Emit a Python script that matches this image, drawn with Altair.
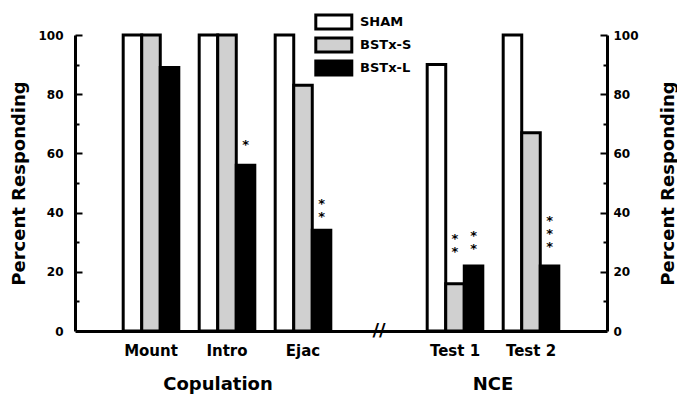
import altair as alt
import pandas as pd

# ---- data ----
categories = ["Mount", "Intro", "Ejac", "Test 1", "Test 2"]
groups = ["SHAM", "BSTx-S", "BSTx-L"]
sham = [100, 100, 100, 90, 100]
bstx_s = [100, 100, 83, 16, 67]
bstx_l = [89, 56, 34, 22, 22]

axis_domain = ["Mount", "Intro", "Ejac", "gap", "Test 1", "Test 2"]

star_cats = ["Intro", "Ejac", "Test 1", "Test 1", "Test 2"]
star_groups = ["BSTx-L", "BSTx-L", "BSTx-S", "BSTx-L", "BSTx-L"]
star_text = ["*", "*\n*", "*\n*", "*\n*", "*\n*\n*"]
star_level = [63, 43, 31, 32, 37]

major_ticks = [20, 40, 60, 80, 100]
minor_ticks = [10, 30, 50, 70, 90]
tick_labels = [0, 20, 40, 60, 80, 100]

FONT = "DejaVu Sans"
W, H = 532, 296

rows = []
for g, vals in zip(groups, [sham, bstx_s, bstx_l]):
    for c, v in zip(categories, vals):
        rows.append({"cat": c, "group": g, "value": v})
df = pd.DataFrame(rows)

stars = pd.DataFrame({"cat": star_cats, "group": star_groups,
                      "txt": star_text, "level": star_level})
brk = pd.DataFrame({"cat": ["gap"], "level": [0], "txt": ["//"]})
cop = pd.DataFrame({"cat": ["Intro"], "level": [0], "txt": ["Copulation"]})
nce = pd.DataFrame({"cat": ["Test 1"], "level": [0], "txt": ["NCE"]})

x_axis = alt.Axis(title=None, labelExpr="datum.value == 'gap' ? '' : datum.value",
                  ticks=False, tickSize=0, domainWidth=3, domainColor="black",
                  labelFont=FONT, labelFontSize=15, labelFontWeight="bold",
                  labelColor="black", labelPadding=12, labelAngle=0, grid=False)
x_scale = alt.Scale(domain=axis_domain, paddingInner=0, paddingOuter=0.5)
x_enc = alt.X("cat:N", scale=x_scale, axis=x_axis)
xo_enc = alt.XOffset("group:N", sort=groups,
                     scale=alt.Scale(domain=groups, paddingOuter=0.55, paddingInner=0))

def ys():
    return alt.Scale(domain=[0, 100], nice=False, zero=True)

left_axis = alt.Axis(orient="left", values=tick_labels, ticks=False, tickSize=0,
                     domainWidth=3, domainColor="black", labelFont=FONT,
                     labelFontSize=12, labelFontWeight="bold", labelColor="black",
                     labelPadding=12, title="Percent Responding", titleFont=FONT,
                     titleFontSize=18, titleFontWeight="bold", titleColor="black",
                     titleX=-56, titleY=H / 2, titleAngle=270, titleAlign="center",
                     titleBaseline="middle", grid=False)
right_axis = alt.Axis(orient="right", values=tick_labels, ticks=False, tickSize=0,
                      domainWidth=3, domainColor="black", labelFont=FONT,
                      labelFontSize=12, labelFontWeight="bold", labelColor="black",
                      labelPadding=6, title="Percent Responding", titleFont=FONT,
                      titleFontSize=18, titleFontWeight="bold", titleColor="black",
                      titleX=61, titleY=H / 2, titleAngle=270, titleAlign="center",
                      titleBaseline="middle", grid=False)

def tick_axis(orient, vals, size):
    return alt.Axis(orient=orient, offset=-W, values=vals, ticks=True, tickSize=size,
                    tickWidth=2, tickColor="black", labels=False, domain=False,
                    title=None, grid=False)

legend = alt.Legend(orient="none", legendX=237, legendY=-22, title=None,
                    symbolType="M-0.6,-1.56H7.4V1.56H-0.6Z", symbolSize=81,
                    symbolStrokeColor="black", symbolStrokeWidth=3,
                    labelFont=FONT, labelFontSize=13, labelFontWeight="bold",
                    labelColor="black", labelOffset=35, rowPadding=5,
                    clipHeight=18)

bars = alt.Chart(df).mark_bar(stroke="black", strokeWidth=3).encode(
    x=x_enc, xOffset=xo_enc,
    y=alt.Y("value:Q", scale=ys(), axis=left_axis),
    fill=alt.Fill("group:N", sort=groups,
                  scale=alt.Scale(domain=groups, range=["white", "#d0d0d0", "black"]),
                  legend=legend),
)

def ghost(axis):
    return alt.Chart(df).mark_bar(opacity=0).encode(
        x=x_enc, xOffset=xo_enc, y=alt.Y("value:Q", scale=ys(), axis=axis))

right_lab = ghost(right_axis)
lt_major = ghost(tick_axis("right", major_ticks, 7))
lt_minor = ghost(tick_axis("right", minor_ticks, 4))
rt_major = ghost(tick_axis("left", major_ticks, 7))
rt_minor = ghost(tick_axis("left", minor_ticks, 4))

star_layer = alt.Chart(stars).mark_text(
    font=FONT, fontSize=13, fontWeight="bold", lineBreak="\n", lineHeight=13,
    baseline="middle", align="center", color="black").encode(
    x=x_enc, xOffset=xo_enc,
    y=alt.Y("level:Q", scale=ys(), axis=None), text="txt:N")

brk_layer = alt.Chart(brk).mark_text(
    font=FONT, fontSize=18, fontWeight="bold", baseline="middle", align="center",
    color="black").encode(
    x=x_enc, y=alt.Y("level:Q", scale=ys(), axis=None), text="txt:N")

cop_layer = alt.Chart(cop).mark_text(
    font=FONT, fontSize=18, fontWeight="bold", baseline="middle", align="center",
    color="black", dy=54, dx=-9).encode(
    x=x_enc, y=alt.Y("level:Q", scale=ys(), axis=None), text="txt:N")

nce_layer = alt.Chart(nce).mark_text(
    font=FONT, fontSize=18, fontWeight="bold", baseline="middle", align="center",
    color="black", dy=54).encode(
    x=alt.X("cat:N", scale=x_scale, axis=x_axis, bandPosition=1),
    y=alt.Y("level:Q", scale=ys(), axis=None), text="txt:N")

chart = alt.layer(
    bars, right_lab, lt_major, lt_minor, rt_major, rt_minor,
    star_layer, brk_layer, cop_layer, nce_layer,
).resolve_scale(y="independent").properties(
    width=W, height=H,
    autosize=alt.AutoSizeParams(type="none"),
    padding={"left": 75, "top": 35, "right": 70, "bottom": 65},
    background="white",
).configure_view(stroke=None).configure_axis(grid=False)

chart.save("out.html", embed_options={"renderer": "svg", "actions": False})
